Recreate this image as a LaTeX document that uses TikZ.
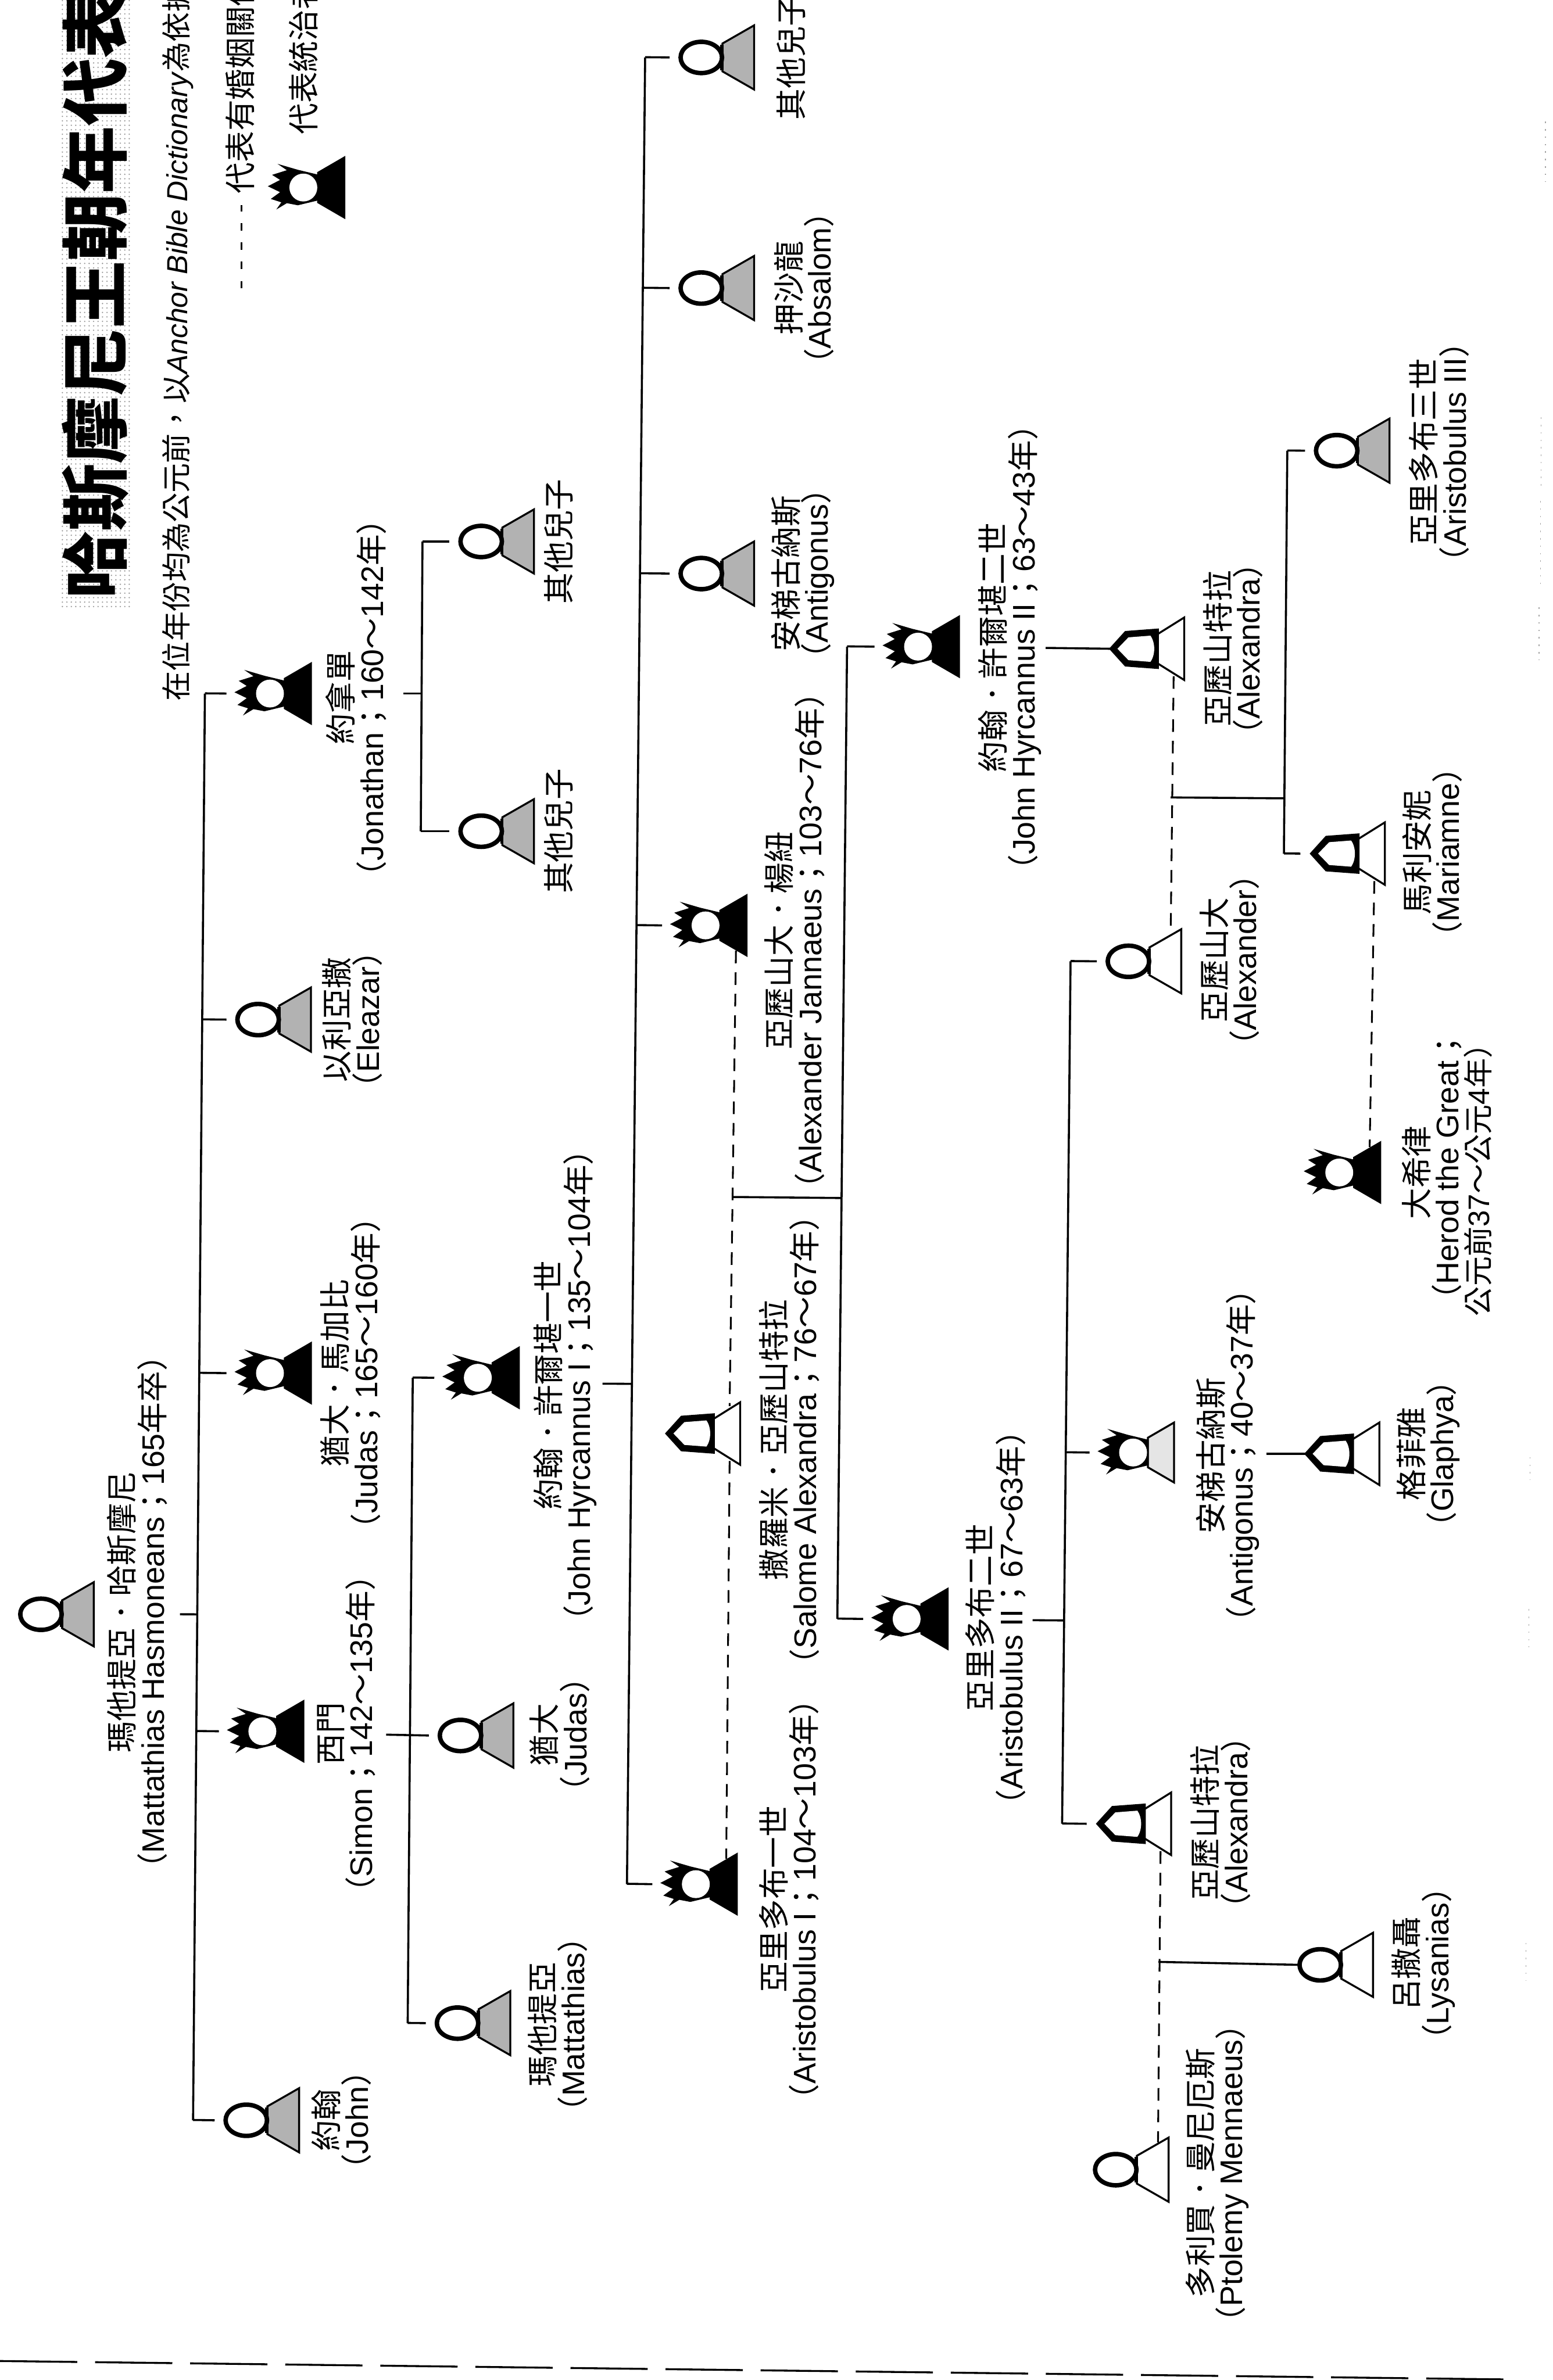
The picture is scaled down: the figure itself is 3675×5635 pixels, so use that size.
\documentclass[tikz,border=0pt]{standalone}
\usepackage{fontspec}
\setmainfont{Liberation Sans}
\newfontfamily\cjk{Noto Sans CJK TC}
\usetikzlibrary{calc, patterns}
\newcommand{\zh}[1]{{\cjk #1}}
\tikzset{
    treeline/.style={line width=1.4pt},
    tieline/.style={line width=1.2pt, dash pattern=on 8.5pt off 6pt},
    namelabel/.style={rotate=90, align=center, inner sep=0pt, font=\fontsize{21}{20.5}\selectfont},
    halftone/.style={fill=gray!60},
    ruler/.style={fill=black},
    % 男性
    manfig/.pic={
        \draw[line width=1.3pt, pic actions] (-75,-33) -- (0,-76) -- (0,76) -- (-75,33) -- cycle;
        \fill[black] (-80,-30) rectangle (-72,30);
        \draw[line width=3pt, fill=white] (-125,0) ellipse [x radius=49, y radius=37];
        \coordinate (-w) at (-200,0);
        \coordinate (-h) at (-175,0);
        \coordinate (-n) at (-25,-65);
        \coordinate (-s) at (-25,65);
    },
    % 统治者
    kingfig/.pic={
        \draw[line width=1.3pt, pic actions] (-62,-35) -- (0,-71) -- (0,71) -- (-62,35) -- cycle;
        \fill[black] (-158,-56) -- (-136,-41) -- (-171,-30) -- (-152,-18) -- (-181,-3) -- (-152,11)
            -- (-174,27) -- (-149,35) -- (-161,52) -- (-136,37) -- (-110,42) -- (-60,30)
            -- (-60,-30) -- (-110,-42) -- cycle;
        \fill[white] (-97,0) ellipse [x radius=33, y radius=33];
        \coordinate (-w) at (-200,0);
        \coordinate (-h) at (-175,0);
        \coordinate (-n) at (-25,-60);
        \coordinate (-s) at (-25,60);
    },
    % 女性
    queenfig/.pic={
        \draw[line width=1.3pt, pic actions] (-64,-34) -- (0,-74) -- (0,74) -- (-64,34) -- cycle;
        \fill[black] (-178,0) -- (-140,-42) -- (-60,-48) -- (-60,48) -- (-140,42) -- cycle;
        \fill[white] (-158,0) -- (-132,-27) -- (-80,-31) .. controls (-68,-15) and (-68,15) .. (-80,31)
            -- (-132,27) -- cycle;
        \coordinate (-w) at (-200,0);
        \coordinate (-h) at (-175,0);
        \coordinate (-n) at (-25,-65);
        \coordinate (-s) at (-25,65);
    },
}

\begin{document}
\begin{tikzpicture}[x=0.01cm, y=-0.01cm]
    \useasboundingbox (0,0) rectangle (3675,5635);

    % 标题
    \fill[pattern=dots, pattern color=gray!80] (140,0) rectangle (312,1440);
    \node[rotate=90, anchor=west, inner sep=0pt, font=\fontsize{45.5}{50}\selectfont\cjk\bfseries] (title) at (226,1419) {哈斯摩尼王朝年代表};
    \node[rotate=90, anchor=west, inner sep=0pt, font=\fontsize{20}{24}\selectfont] (note) at (421,1660) {\zh{在位年份均為公元前，以}{\fontsize{19.5}{24}\selectfont\textit{Anchor Bible Dictionary}}\zh{為依據}};

    % 图例
    \coordinate (tiekeya) at (572,683);
    \coordinate (tiekeyb) at (572,485);
    \draw[line width=1.3pt, dash pattern=on 5pt off 8pt] (tiekeya) -- (tiekeyb);
    \node[rotate=90, anchor=west, inner sep=0pt, font=\fontsize{21}{24}\selectfont\cjk] (tiekey) at (568,459) {代表有婚姻關係};
    \pic[ruler] (rulerkey) at (815,444) {kingfig};
    \node[rotate=90, anchor=west, inner sep=0pt, font=\fontsize{21}{24}\selectfont\cjk] (rulerlab) at (718,319) {代表統治者};

    % 人物
    \pic[halftone] (matt) at (222,3822) {manfig};
    \pic[halftone] (johna) at (708,5020) {manfig};
    \pic[ruler] (simon) at (718,4099) {kingfig};
    \pic[ruler] (judasa) at (736,3251) {kingfig};
    \pic[halftone] (eleazar) at (736,2414) {manfig};
    \pic[ruler] (jonathan) at (736,1642) {kingfig};
    \pic[halftone] (sona) at (1264,1968) {manfig};
    \pic[halftone] (sonb) at (1264,1282) {manfig};
    \pic[ruler] (hyrca) at (1228,3262) {kingfig};
    \pic[halftone] (judasb) at (1215,4109) {manfig};
    \pic[halftone] (mattb) at (1208,4790) {manfig};
    \pic[ruler] (arista) at (1744,4461) {kingfig};
    \pic (salome) at (1752,3394) {queenfig};
    \pic[ruler] (jannaeus) at (1767,2191) {kingfig};
    \pic[halftone] (antiga) at (1785,1358) {manfig};
    \pic[halftone] (absalom) at (1785,682) {manfig};
    \pic[halftone] (sonc) at (1785,136) {manfig};
    \pic[ruler] (hyrcb) at (2270,1531) {kingfig};
    \pic[ruler] (aristb) at (2243,3833) {kingfig};
    \pic (alexb) at (2803,1536) {queenfig};
    \pic (alexander) at (2796,2276) {manfig};
    \pic[fill=gray!20] (antigb) at (2779,3439) {kingfig};
    \pic (alexa) at (2772,4318) {queenfig};
    \pic (ptolemy) at (2766,5137) {manfig};
    \pic[halftone] (aristc) at (3289,1067) {manfig};
    \pic (mariamne) at (3278,2021) {queenfig};
    \pic[ruler] (herod) at (3267,2776) {kingfig};
    \pic (glaphya) at (3265,3442) {queenfig};
    \pic (lysanias) at (3250,4652) {manfig};

    % 姓名
    \node[namelabel] (mattlab) at (325,3817) {\zh{瑪他提亞．哈斯摩尼}\\\zh{（}Mattathias Hasmoneans\zh{；}165\zh{年卒）}};
    \node[namelabel] (johnalab) at (808,5020) {\zh{約翰}\\\zh{（}John\zh{）}};
    \node[namelabel] (simonlab) at (820,4105) {\zh{西門}\\\zh{（}Simon\zh{；}142\zh{～}135\zh{年）}};
    \node[namelabel] (judasalab) at (830,3251) {\zh{猶大．馬加比}\\\zh{（}Judas\zh{；}165\zh{～}160\zh{年）}};
    \node[namelabel] (eleazarlab) at (834,2414) {\zh{以利亞撒}\\\zh{（}Eleazar\zh{）}};
    \node[namelabel] (jonathanlab) at (843,1652) {\zh{約拿單}\\\zh{（}Jonathan\zh{；}160\zh{～}142\zh{年）}};
    \node[namelabel] (sonalab) at (1322,1968) {\zh{其他兒子}};
    \node[namelabel] (sonblab) at (1322,1282) {\zh{其他兒子}};
    \node[namelabel] (hyrcalab) at (1338,3280) {\zh{約翰．許爾堪一世}\\\zh{（}John Hyrcannus I\zh{；}135\zh{～}104\zh{年）}};
    \node[namelabel] (judasblab) at (1325,4107) {\zh{猶大}\\\zh{（}Judas\zh{）}};
    \node[namelabel] (mattblab) at (1320,4793) {\zh{瑪他提亞}\\\zh{（}Mattathias\zh{）}};
    \node[namelabel] (aristalab) at (1868,4497) {\zh{亞里多布一世}\\\zh{（}Aristobulus I\zh{；}104\zh{～}103\zh{年）}};
    \node[namelabel] (salomelab) at (1868,3409) {\zh{撒羅米．亞歷山特拉}\\\zh{（}Salome Alexandra\zh{；}76\zh{～}67\zh{年）}};
    \node[namelabel] (jannaeuslab) at (1881,2227) {\zh{亞歷山大．楊紐}\\\zh{（}Alexander Jannaeus\zh{；}103\zh{～}76\zh{年）}};
    \node[namelabel] (antigalab) at (1900,1358) {\zh{安梯古納斯}\\\zh{（}Antigonus\zh{）}};
    \node[namelabel] (absalomlab) at (1903,682) {\zh{押沙龍}\\\zh{（}Absalom\zh{）}};
    \node[namelabel] (sonclab) at (1872,136) {\zh{其他兒子}};
    \node[namelabel] (hyrcblab) at (2390,1533) {\zh{約翰．許爾堪二世}\\\zh{（}John Hyrcannus II\zh{；}63\zh{～}43\zh{年）}};
    \node[namelabel] (aristblab) at (2357,3830) {\zh{亞里多布二世}\\\zh{（}Aristobulus II\zh{；}67\zh{～}63\zh{年）}};
    \node[namelabel] (alexblab) at (2918,1536) {\zh{亞歷山特拉}\\\zh{（}Alexandra\zh{）}};
    \node[namelabel] (alexanderlab) at (2910,2273) {\zh{亞歷山大}\\\zh{（}Alexander\zh{）}};
    \node[namelabel] (antigblab) at (2906,3446) {\zh{安梯古納斯}\\\zh{（}Antigonus\zh{；}40\zh{～}37\zh{年）}};
    \node[namelabel] (alexalab) at (2889,4315) {\zh{亞歷山特拉}\\\zh{（}Alexandra\zh{）}};
    \node[namelabel] (ptolemylab) at (2881,5145) {\zh{多利買．曼尼厄斯}\\\zh{（}Ptolemy Mennaeus\zh{）}};
    \node[namelabel] (aristclab) at (3406,1070) {\zh{亞里多布三世}\\\zh{（}Aristobulus III\zh{）}};
    \node[namelabel] (mariamnelab) at (3390,2018) {\zh{馬利安妮}\\\zh{（}Mariamne\zh{）}};
    \node[namelabel] (herodlab) at (3425,2776) {\zh{大希律}\\\zh{（}Herod the Great\zh{；}\\{\fontsize{20}{18}\selectfont\zh{公元前}37\zh{～公元}4\zh{年）}}};
    \node[namelabel] (glaphyalab) at (3381,3442) {\zh{格菲雅}\\\zh{（}Glaphya\zh{）}};
    \node[namelabel] (lysaniaslab) at (3369,4649) {\zh{呂撒聶}\\\zh{（}Lysanias\zh{）}};

    % 世系线
    \coordinate (atop) at (485,1642);
    \coordinate (abot) at (457,5020);
    \coordinate (mattstub) at (426,3822);
    \draw[treeline] (atop) -- (abot);
    \draw[treeline] (mattstub) -- ($(atop)!(mattstub)!(abot)$);
    \foreach \kid in {jonathan, eleazar, judasa, simon, johna} {
        \draw[treeline] (\kid-w) -- ($(atop)!(\kid-w)!(abot)$);
    }

    \coordinate (btop) at (977,3262);
    \coordinate (bbot) at (965,4790);
    \coordinate (simonstub) at (914,4107);
    \draw[treeline] (btop) -- (bbot);
    \draw[treeline] (simonstub) -- (judasb-w);
    \foreach \kid in {hyrca, mattb} {
        \draw[treeline] (\kid-w) -- ($(btop)!(\kid-w)!(bbot)$);
    }

    \coordinate (jonstub) at (955,1642);
    \coordinate (jonup) at (1000,1282);
    \coordinate (jondown) at (996,1968);
    \coordinate (jonmid) at (998,1642);
    \draw[treeline] (jonstub) -- (jonmid);
    \draw[treeline] (jonup) -- (jondown);
    \draw[treeline] (jonup) -- (sonb-w);
    \draw[treeline] (jondown) -- (sona-w);

    \coordinate (ctop) at (1527,136);
    \coordinate (cbot) at (1484,4461);
    \coordinate (hyrcastub) at (1426,3276);
    \draw[treeline] (ctop) -- (cbot);
    \draw[treeline] (hyrcastub) -- ($(ctop)!(hyrcastub)!(cbot)$);
    \foreach \kid in {sonc, absalom, antiga, jannaeus, arista} {
        \draw[treeline] (\kid-w) -- ($(ctop)!(\kid-w)!(cbot)$);
    }

    \coordinate (dtop) at (2005,1531);
    \coordinate (dbot) at (1982,3833);
    \coordinate (tiea) at (1734,2834);
    \draw[treeline] (dtop) -- (dbot);
    \draw[treeline] (tiea) -- ($(dtop)!(tiea)!(dbot)$);
    \foreach \kid in {hyrcb, aristb} {
        \draw[treeline] (\kid-w) -- ($(dtop)!(\kid-w)!(dbot)$);
    }

    \coordinate (etop) at (2534,2276);
    \coordinate (ebot) at (2514,4318);
    \coordinate (aristbstub) at (2444,3836);
    \draw[treeline] (etop) -- (ebot);
    \draw[treeline] (aristbstub) -- ($(etop)!(aristbstub)!(ebot)$);
    \foreach \kid in {alexander, antigb, alexa} {
        \draw[treeline] (\kid-w) -- ($(etop)!(\kid-w)!(ebot)$);
    }

    \coordinate (ftop) at (3047,1067);
    \coordinate (fbot) at (3039,2021);
    \coordinate (tieb) at (2771,1888);
    \draw[treeline] (ftop) -- (fbot);
    \draw[treeline] (tieb) -- ($(ftop)!(tieb)!(fbot)$);
    \foreach \kid in {aristc, mariamne} {
        \draw[treeline] (\kid-w) -- ($(ftop)!(\kid-w)!(fbot)$);
    }

    % 婚姻
    \coordinate (hyrcbstub) at (2475,1534);
    \coordinate (antigbstub) at (2997,3442);
    \coordinate (tiec) at (2742,4645);
    \draw[treeline] (hyrcbstub) -- (alexb-h);
    \draw[treeline] (antigbstub) -- (glaphya-h);
    \draw[treeline] (tiec) -- (lysanias-h);
    \draw[tieline] (jannaeus-s) -- (tiea) -- (salome-n);
    \draw[tieline] (salome-s) -- (arista-n);
    \draw[tieline] (alexb-s) -- (alexander-n);
    \draw[tieline] (mariamne-s) -- (herod-n);
    \draw[tieline] (alexa-s) -- (ptolemy-n);

    % 扫描边缘
    \coordinate (edgea) at (0,5590);
    \coordinate (edgeb) at (3598,5634);
    \draw[line width=1.3pt, dash pattern=on 52pt off 12pt] (edgea) -- (edgeb);
    \foreach \x/\ya/\yb in {3658/288/431, 3648/988/1150, 3646/1186/1384, 3643/1438/1563, 3622/3450/3504, 3619/3810/3900, 3612/4600/4690} {
        \draw[line width=0.5pt, gray!70, dash pattern=on 1pt off 4pt] (\x,\ya) -- (\x,\yb);
    }
\end{tikzpicture}
\end{document}
